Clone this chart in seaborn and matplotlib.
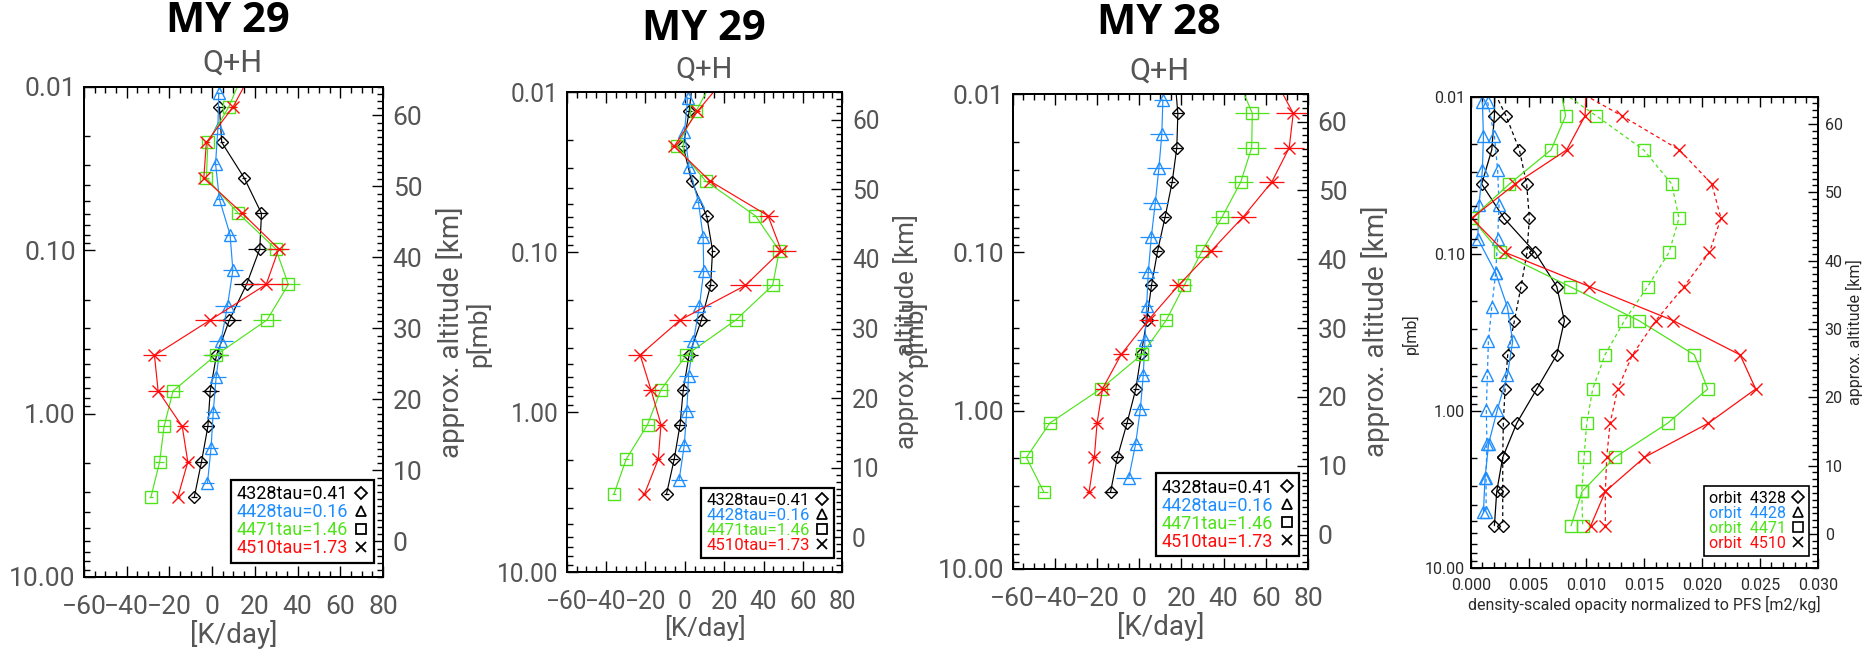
import matplotlib
matplotlib.use("Agg")
import matplotlib.pyplot as plt
import seaborn as sns
from matplotlib.ticker import MultipleLocator, LogLocator, FixedLocator, FuncFormatter, NullFormatter
from matplotlib.lines import Line2D

# ---------------- data ----------------
# altitude levels [km] of the retrieval points
alt_main = [61.2, 56.2, 51.2, 46.2, 41.2, 36.2, 31.2, 26.2, 21.2, 16.2, 11.2, 6.2]
alt_ext = [66.2, 61.2, 56.2, 51.2, 46.2, 41.2, 36.2, 31.2, 26.2, 21.2, 16.2, 11.2, 6.2]
alt_blue = [63.2, 58.2, 53.2, 48.2, 43.2, 38.2, 33.2, 28.2, 23.2, 18.2, 13.2, 8.2]

orbits = ["4328", "4428", "4471", "4510"]
taus = ["0.41", "0.16", "1.46", "1.73"]

# panel 1 : MY 29
p1_black = [3.4, 4.5, 15.0, 23.1, 22.3, 16.1, 8.1, 2.0, -0.9, -2.0, -5.0, -8.4]
p1_black_err = [1.5, 1.0, 1.0, 3.0, 5.5, 6.0, 5.5, 5.5, 4.0, 2.5, 2.5, 1.5]
p1_blue = [3.1, 2.7, 1.6, 3.4, 8.4, 9.7, 7.2, 4.1, 1.9, 0.5, -0.5, -2.2]
p1_blue_err = [1.5, 1.5, 1.0, 1.5, 3.0, 4.8, 5.7, 5.6, 4.4, 3.3, 3.3, 3.0]
p1_green = [14.8, 7.8, -2.0, -2.7, 12.3, 29.8, 35.7, 25.7, 1.6, -18.3, -22.5, -24.6, -28.7]
p1_green_err = [0, 1.5, 1.0, 1.0, 2.0, 5.0, 5.5, 6.5, 6.0, 4.7, 3.3, 2.0, 1.0]
p1_red = [18.7, 9.8, -2.7, -3.9, 14.2, 31.2, 25.3, -0.8, -27.0, -25.3, -14.0, -11.4, -16.1]
p1_red_err = [0, 2.0, 1.0, 1.0, 1.5, 5.0, 10.0, 7.0, 5.3, 4.5, 2.6, 1.5, 1.0]

# panel 2 : MY 29
p2_black = [4.2, 2.2, -0.8, 3.4, 11.1, 14.1, 13.1, 8.4, 2.2, -0.8, -2.4, -5.4, -9.3]
p2_black_err = [0, 1.5, 1.0, 1.0, 1.0, 1.0, 1.5, 4.2, 4.3, 2.0, 3.2, 2.0, 1.5]
p2_blue = [1.5, -0.2, 2.2, 6.9, 9.3, 9.6, 7.4, 4.4, 1.9, 1.0, -0.3, -2.9]
p2_blue_err = [1.0, 1.0, 1.5, 1.5, 2.7, 5.6, 6.0, 5.5, 4.6, 4.0, 3.5, 4.0]
p2_green = [15.3, 5.6, -4.0, 10.6, 35.9, 48.0, 44.6, 25.8, 0.8, -12.1, -18.9, -29.8, -36.0]
p2_green_err = [0, 1.5, 1.5, 1.5, 2.0, 5.0, 5.5, 5.0, 4.6, 4.2, 3.0, 1.5, 1.0]
p2_red = [21.0, 6.4, -5.4, 12.8, 42.3, 49.0, 30.8, -2.5, -22.7, -17.2, -12.1, -13.5, -20.5]
p2_red_err = [0, 1.5, 1.5, 1.5, 4.8, 7.5, 8.0, 5.7, 6.0, 4.2, 2.0, 1.5, 1.0]

# panel 3 : MY 28
p3_black = [16.9, 18.3, 17.8, 15.6, 12.3, 8.7, 5.8, 3.6, 0.9, -1.6, -5.8, -10.4, -13.6]
p3_black_err = [0, 2.5, 2.5, 1.5, 2.0, 2.0, 2.0, 2.5, 2.5, 1.5, 2.0, 2.0, 3.0]
p3_blue = [11.2, 10.7, 9.3, 7.6, 5.7, 4.3, 3.5, 2.7, 1.9, 0.5, -1.7, -5.0]
p3_blue_err = [4.0, 5.5, 5.7, 5.8, 5.3, 4.7, 2.8, 3.6, 2.7, 4.0, 3.0, 6.0]
p3_green = [46.7, 53.6, 53.3, 48.1, 39.4, 29.8, 21.3, 12.9, 1.4, -18.1, -42.4, -53.5, -45.3]
p3_green_err = [0, 8.0, 7.0, 6.0, 5.5, 4.0, 3.8, 2.8, 2.4, 2.8, 3.3, 2.8, 2.0]
p3_red = [64.2, 73.0, 71.1, 62.8, 49.4, 34.1, 18.6, 4.4, -8.5, -17.4, -20.0, -21.3, -23.8]
p3_red_err = [0, 8.0, 7.0, 6.0, 5.8, 5.0, 4.6, 4.5, 3.8, 3.7, 2.0, 1.5, 1.5]

# panel 4 : opacity profiles
alt4_main = [66.2, 61.2, 56.2, 51.2, 46.2, 41.2, 36.2, 31.2, 26.2, 21.2, 16.2, 11.2, 6.2, 1.2]
alt4_blue = [63.2, 58.2, 53.2, 48.2, 43.2, 38.2, 33.2, 28.2, 23.2, 18.2, 13.2, 8.2, 3.2]
p4_black_solid = [0.0021, 0.00205, 0.00182, 0.00095, 0.00288, 0.00556, 0.00744, 0.00810,
                  0.00744, 0.00571, 0.00398, 0.00277, 0.00225, 0.00205]
p4_black_dash = [0.0016, 0.00305, 0.00421, 0.00484, 0.00507, 0.00487, 0.00435, 0.00378,
                 0.00320, 0.00297, 0.00282, 0.00277, 0.00277, 0.00277]
p4_blue_solid = [0.00101, 0.00110, 0.00101, 0.00072, 0.00061, 0.00216, 0.00317, 0.00363,
                 0.00317, 0.00231, 0.00155, 0.00124, 0.00110]
p4_blue_dash = [0.00147, 0.00205, 0.00233, 0.00245, 0.00233, 0.00216, 0.00182, 0.00153,
                0.00144, 0.00135, 0.00140, 0.00133, 0.00133]
p4_green_solid = [0.00764, 0.00821, 0.00695, 0.00334, 0.00009, 0.00254, 0.00856, 0.01455,
                  0.01934, 0.02049, 0.01703, 0.01248, 0.00963, 0.00868]
p4_green_dash = [0.0066, 0.01084, 0.01496, 0.01738, 0.01801, 0.01715, 0.01530, 0.01329,
                 0.01161, 0.01055, 0.01003, 0.00980, 0.00960, 0.00968]
p4_red_solid = [0.0100, 0.00989, 0.00830, 0.00383, 0.00009, 0.00297, 0.01026, 0.01752,
                0.02329, 0.02464, 0.02055, 0.01502, 0.01164, 0.01038]
p4_red_dash = [0.0078, 0.01306, 0.01804, 0.02084, 0.02164, 0.02064, 0.01844, 0.01600,
               0.01398, 0.01271, 0.01205, 0.01176, 0.01164, 0.01164]

p_ticks = [0.01, 0.1, 1.0, 10.0]

# ---------------- style ----------------
sns.set_style("ticks")
plt.rcParams['font.family'] = ['Roboto', 'DejaVu Sans']
plt.rcParams['axes.linewidth'] = 1.4

W, H = 1865, 656
fig = plt.figure(figsize=(W / 100, H / 100), dpi=100)

C = {'k': 'black', 'b': '#1E8EFF', 'g': '#4FE31C', 'r': '#FF0D0D'}
col_list = [C['k'], C['b'], C['g'], C['r']]
markers = ['D', '^', 's', 'x']
TXT = '#555555'
ALT_LIM = (-5.0, 64.0)


def rect(x0, x1, y0, y1):
    return [x0 / W, 1 - y1 / H, (x1 - x0) / W, (y1 - y0) / H]


def make_axes(box, xlim, fs_tick, tick_color):
    ax = fig.add_axes(rect(*box))
    axp = ax.twinx()
    ax.yaxis.tick_right()
    ax.yaxis.set_label_position('right')
    axp.yaxis.tick_left()
    axp.yaxis.set_label_position('left')
    ax.set_xlim(*xlim)
    ax.set_ylim(*ALT_LIM)
    axp.set_yscale('log')
    axp.set_ylim(10, 0.01)
    axp.yaxis.set_major_locator(FixedLocator(p_ticks))
    axp.yaxis.set_major_formatter(FuncFormatter(lambda v, p: f"{v:.2f}"))
    axp.yaxis.set_minor_locator(LogLocator(base=10, subs=range(2, 10), numticks=20))
    axp.yaxis.set_minor_formatter(NullFormatter())
    ax.yaxis.set_major_locator(MultipleLocator(10))
    ax.yaxis.set_minor_locator(MultipleLocator(1))
    for a in (ax, axp):
        a.tick_params(which='both', direction='in', color='black', width=1.0,
                      labelsize=fs_tick, labelcolor=tick_color)
        a.tick_params(which='major', length=8)
        a.tick_params(which='minor', length=4)
        for s in a.spines.values():
            s.set_linewidth(1.4)
            s.set_color('black')
    ax.tick_params(axis='x', which='both', top=True, bottom=True)
    ax.tick_params(axis='y', which='both', left=False, right=True)
    axp.tick_params(axis='y', which='both', left=True, right=False)
    return ax, axp


def heating_panel(box, series, legend_anchor, scale=1.0):
    ax, axp = make_axes(box, (-60, 80), 19 * scale, TXT)
    ax.xaxis.set_major_locator(MultipleLocator(20))
    ax.xaxis.set_minor_locator(MultipleLocator(5))
    ax.tick_params(axis='x', pad=13)
    ax.tick_params(axis='y', pad=7)
    axp.tick_params(axis='y', pad=6)
    for (vals, alts, errs), c, m in zip(series, col_list, markers):
        sns.lineplot(x=vals, y=alts, orient='y', sort=False, estimator=None, ax=ax,
                     color=c, linewidth=0.85, marker=m, markersize=8 if m != 'D' else 6.5,
                     markerfacecolor='none', markeredgecolor=c, markeredgewidth=1.0,
                     legend=False)
        ax.errorbar(vals, alts, xerr=errs, fmt='none', ecolor=c, elinewidth=0.9, capsize=0)
    ax.set_xlim(-60, 80)
    ax.set_ylim(*ALT_LIM)
    ax.set_xlabel('[K/day]', fontsize=20 * scale, color=TXT, labelpad=1)
    ax.set_ylabel('approx. altitude [km]', fontsize=20 * scale, color=TXT, labelpad=10)
    handles = [Line2D([], [], ls='none', marker=m, mfc='none', mec='black', mew=1.3,
                      ms=7.5 if m != 'D' else 6.5) for m in markers]
    labels = [f"{o}tau={t}" for o, t in zip(orbits, taus)]
    leg = ax.legend(handles, labels, loc='lower right', bbox_to_anchor=legend_anchor,
                    borderaxespad=0, markerfirst=False, labelcolor=col_list,
                    frameon=True, fancybox=False, edgecolor='black', framealpha=1,
                    handlelength=0.8, handletextpad=0.35, labelspacing=0.0,
                    borderpad=0.3, prop={'size': 13 * scale})
    leg.get_frame().set_linewidth(1.6)
    return ax, axp


# ---------------- panels 1-3 ----------------
heating_panel((84, 383, 87, 577),
              [(p1_black, alt_main, p1_black_err), (p1_blue, alt_blue, p1_blue_err),
               (p1_green, alt_ext, p1_green_err), (p1_red, alt_ext, p1_red_err)],
              (0.970, 0.029))
heating_panel((566.7, 842.3, 92, 572),
              [(p2_black, alt_ext, p2_black_err), (p2_blue, alt_blue, p2_blue_err),
               (p2_green, alt_ext, p2_green_err), (p2_red, alt_ext, p2_red_err)],
              (0.970, 0.029), scale=0.93)
heating_panel((1012.7, 1308, 94, 569),
              [(p3_black, alt_ext, p3_black_err), (p3_blue, alt_blue, p3_blue_err),
               (p3_green, alt_ext, p3_green_err), (p3_red, alt_ext, p3_red_err)],
              (0.9705, 0.027))


def ftext(x, y, s, **kw):
    fig.text(x / W, 1 - y / H, s, ha='center', va='center', **kw)


TITLE_FONT = ['Open Sans', 'DejaVu Sans']
ftext(228, 21, 'MY 29', fontsize=30, fontweight='bold', family=TITLE_FONT, color='black')
ftext(232, 63, 'Q+H', fontsize=22, color=TXT)
ftext(704, 30, 'MY 29', fontsize=30, fontweight='bold', family=TITLE_FONT, color='black')
ftext(704, 70, 'Q+H', fontsize=21, color=TXT)
ftext(1159, 23, 'MY 28', fontsize=30, fontweight='bold', family=TITLE_FONT, color='black')
ftext(1159, 71, 'Q+H', fontsize=22, color=TXT)
ftext(478, 334, 'p[mb]', fontsize=19, color=TXT, rotation=90)
ftext(914, 334, 'p[mb]', fontsize=19, color=TXT, rotation=90)

# ---------------- panel 4 ----------------
TXT4 = '#2a2a2a'
ax4, axp4 = make_axes((1470.7, 1817.7, 96.6, 568), (0.0, 0.030), 11.5, TXT4)
ax4.xaxis.set_major_locator(MultipleLocator(0.005))
ax4.xaxis.set_minor_locator(MultipleLocator(0.001))
ax4.xaxis.set_major_formatter(FuncFormatter(lambda v, p: f"{v:.3f}"))
ax4.tick_params(axis='x', pad=7)
ax4.tick_params(axis='y', pad=5)
axp4.tick_params(axis='y', pad=4)
ax4.tick_params(which='major', length=7)
axp4.tick_params(which='major', length=7)

p4_series = [
    (p4_black_solid, p4_black_dash, alt4_main, C['k'], 'D'),
    (p4_blue_solid, p4_blue_dash, alt4_blue, C['b'], '^'),
    (p4_green_solid, p4_green_dash, alt4_main, C['g'], 's'),
    (p4_red_solid, p4_red_dash, alt4_main, C['r'], 'x'),
]
for solid, dash, alts, c, m in p4_series:
    ms = 8 if m != 'D' else 6.5
    sns.lineplot(x=solid, y=alts, orient='y', sort=False, estimator=None, ax=ax4,
                 color=c, linewidth=0.9, marker=m, markersize=ms, markerfacecolor='none',
                 markeredgecolor=c, markeredgewidth=1.0, legend=False)
    sns.lineplot(x=dash, y=alts, orient='y', sort=False, estimator=None, ax=ax4,
                 color=c, linewidth=0.9, linestyle=(0, (3, 2.5)), marker=m, markersize=ms,
                 markerfacecolor='none', markeredgecolor=c, markeredgewidth=1.0, legend=False)
ax4.set_xlim(0.0, 0.030)
ax4.set_ylim(*ALT_LIM)
ax4.set_xlabel('density-scaled opacity normalized to PFS [m2/kg]', fontsize=11.5,
               color=TXT4, labelpad=2)
ax4.set_ylabel('approx. altitude [km]', fontsize=11.5, color=TXT4, labelpad=2)
ftext(1410, 334, 'p[mb]', fontsize=11.5, color=TXT4, rotation=90)
h4 = [Line2D([], [], ls='none', marker=m, mfc='none', mec='black', mew=1.2,
             ms=7.5 if m != 'D' else 6.5) for m in markers]
lab4 = [f"orbit  {o}" for o in orbits]
leg4 = ax4.legend(h4, lab4, loc='lower right', bbox_to_anchor=(0.975, 0.026),
                  borderaxespad=0, markerfirst=False, labelcolor=col_list, frameon=True,
                  fancybox=False, edgecolor='black', framealpha=1, handlelength=0.8,
                  handletextpad=0.35, labelspacing=0.0, borderpad=0.3,
                  prop={'size': 11.5})
leg4.get_frame().set_linewidth(1.2)

fig.savefig('out.png', dpi=100)
